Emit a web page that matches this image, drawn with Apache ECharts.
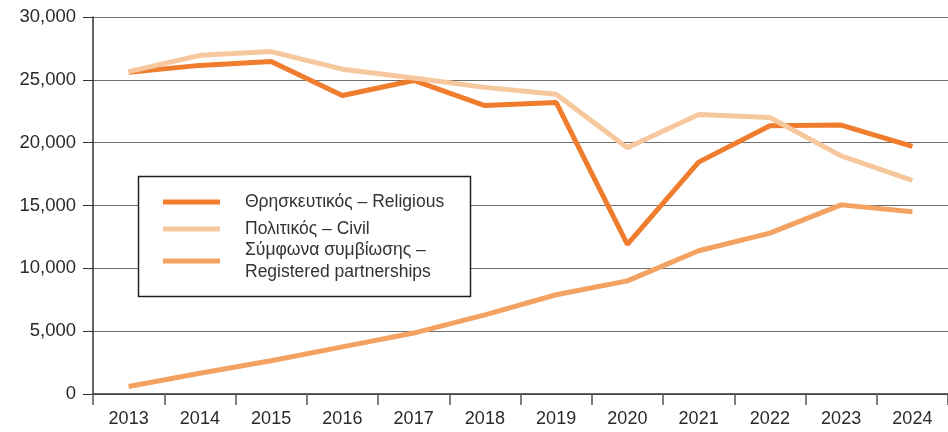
<!DOCTYPE html>
<html>
<head>
<meta charset="utf-8">
<script src="https://cdn.jsdelivr.net/npm/echarts@6/dist/echarts.min.js"></script>
<style>
  html, body { margin: 0; padding: 0; background: #fff; }
  #chart { width: 948px; height: 432px; }
</style>
</head>
<body>
<div id="chart"></div>
<script>
var years = ["2013", "2014", "2015", "2016", "2017", "2018", "2019", "2020", "2021", "2022", "2023", "2024"];
var religious = [25600, 26150, 26450, 23750, 24950, 22950, 23200, 11900, 18450, 21350, 21400, 19700];
var civil = [25650, 26950, 27250, 25850, 25150, 24400, 23850, 19600, 22250, 22000, 18950, 17000];
var partnerships = [600, 1650, 2650, 3750, 4850, 6300, 7900, 9000, 11400, 12800, 15050, 14500];
var seriesNames = ["Θρησκευτικός – Religious", "Πολιτικός – Civil", "Σύμφωνα συμβίωσης –\nRegistered partnerships"];

var colors = ["#ef7d2d", "#f7c89d", "#f4a262"];
var legendTops = [191, 218, 239];

var chart = echarts.init(document.getElementById("chart"));

// one legend per item so each row can sit where it does in the original
var legends = seriesNames.map(function (name, i) {
    return {
        data: [name],
        left: 163,
        top: legendTops[i],
        padding: 0,
        icon: "rect",
        itemWidth: 57,
        itemHeight: 5,
        z: 10,
        selectedMode: false,
        textStyle: {
            fontFamily: "Liberation Sans, Arial, sans-serif",
            fontSize: 17.5,
            lineHeight: 22,
            color: "#333",
            padding: [0, 0, 0, 20]
        }
    };
});

var option = {
    animation: false,
    backgroundColor: "#fff",
    textStyle: {
        fontFamily: "Liberation Sans, Arial, sans-serif"
    },
    grid: {
        left: 93,
        top: 17,
        width: 865,
        height: 377
    },
    legend: legends,
    graphic: [{
        type: "rect",
        z: 5,
        shape: { x: 138.5, y: 176.5, width: 332, height: 120 },
        style: { fill: "#fff", stroke: "#222", lineWidth: 1.5 }
    }],
    xAxis: {
        type: "category",
        data: years,
        boundaryGap: true,
        axisLine: { lineStyle: { color: "#333", width: 1.5 } },
        axisTick: { show: true, length: 11, lineStyle: { color: "#555", width: 1.5 } },
        axisLabel: { color: "#2a2a2a", fontSize: 18, margin: 16 }
    },
    yAxis: {
        type: "value",
        min: 0,
        max: 30000,
        interval: 5000,
        axisLine: { show: true, lineStyle: { color: "#333", width: 1.5 } },
        axisTick: { show: true, length: 10, lineStyle: { color: "#333" } },
        axisLabel: {
            color: "#2a2a2a",
            fontSize: 18.5,
            margin: 17,
            formatter: function (v) { return v.toLocaleString("en-US"); }
        },
        splitLine: { lineStyle: { color: "#6e6e6e", width: 1.2 } }
    },
    series: [religious, civil, partnerships].map(function (d, i) {
        return {
            name: seriesNames[i],
            type: "line",
            data: d,
            symbol: "none",
            color: colors[i],
            lineStyle: { width: 5, color: colors[i] }
        };
    })
};

chart.setOption(option);
</script>
</body>
</html>
